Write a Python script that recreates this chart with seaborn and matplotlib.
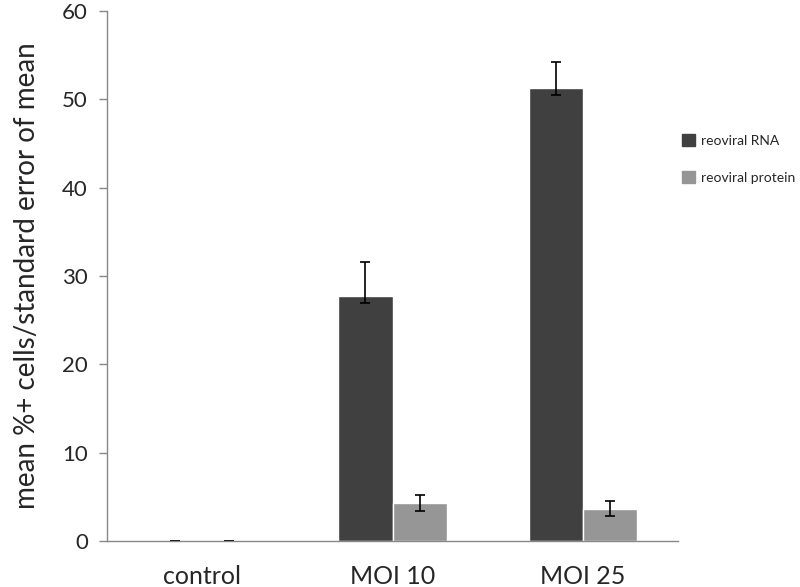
import numpy as np
import pandas as pd
import matplotlib
matplotlib.use("Agg")
import matplotlib.pyplot as plt
import seaborn as sns

# data
categories = ["control", "MOI 10", "MOI 25"]
series = ["reoviral RNA", "reoviral protein"]
rna = [0.0, 27.7, 51.3]
rna_err_lo = [0.0, 0.8, 0.8]
rna_err_hi = [0.0, 3.9, 2.9]
protein = [0.0, 4.3, 3.6]
protein_err_lo = [0.0, 0.9, 0.8]
protein_err_hi = [0.0, 0.9, 0.9]
colors = ["#404040", "#969696"]

sns.set_style("white")
plt.rcParams["font.family"] = ["Lato", "DejaVu Sans"]

df = pd.DataFrame({
    "category": categories * 2,
    "series": [series[0]] * 3 + [series[1]] * 3,
    "value": rna + protein,
})

fig = plt.figure(figsize=(8, 5.87), dpi=100)
ax = fig.add_axes([0.134, 0.0784, 0.7135, 0.9026])

sns.barplot(
    data=df, x="category", y="value", hue="series",
    palette=colors, errorbar=None, width=0.57,
    saturation=1, ax=ax, legend=False
)

# asymmetric error bars on bar centres
bars = ax.patches
errs = [(rna_err_lo, rna_err_hi), (protein_err_lo, protein_err_hi)]
vals = [rna, protein]
for s in range(2):
    xs = [bars[s * 3 + i].get_x() + bars[s * 3 + i].get_width() / 2 for i in range(3)]
    ax.errorbar(
        xs, vals[s], yerr=[errs[s][0], errs[s][1]],
        fmt="none", ecolor="black", elinewidth=1.2, capsize=3.5, capthick=1.2
    )

ax.set_xlim(-0.5, 2.5)
ax.set_ylim(0, 60)
ax.set_yticks(range(0, 61, 10))
ax.set_xlabel("")
ax.set_ylabel("mean %+ cells/standard error of mean", fontsize=20, labelpad=16)
ax.tick_params(axis="y", which="both", left=True, direction="out",
               length=6, width=1, color="#888888", labelsize=16, pad=8)
ax.tick_params(axis="x", bottom=False, labelsize=18, pad=14)

sns.despine(ax=ax, top=True, right=True)
for side in ["left", "bottom"]:
    ax.spines[side].set_color("#888888")
    ax.spines[side].set_linewidth(1)

handles = [plt.Rectangle((0, 0), 1, 1, color=c) for c in colors]
fig.legend(handles, series, loc="upper left", bbox_to_anchor=(0.852, 0.771),
           frameon=False, fontsize=10, handlelength=0.95, handleheight=0.95,
           handletextpad=0.45, labelspacing=1.75, borderpad=0, borderaxespad=0)

fig.savefig("out.png", dpi=100)
